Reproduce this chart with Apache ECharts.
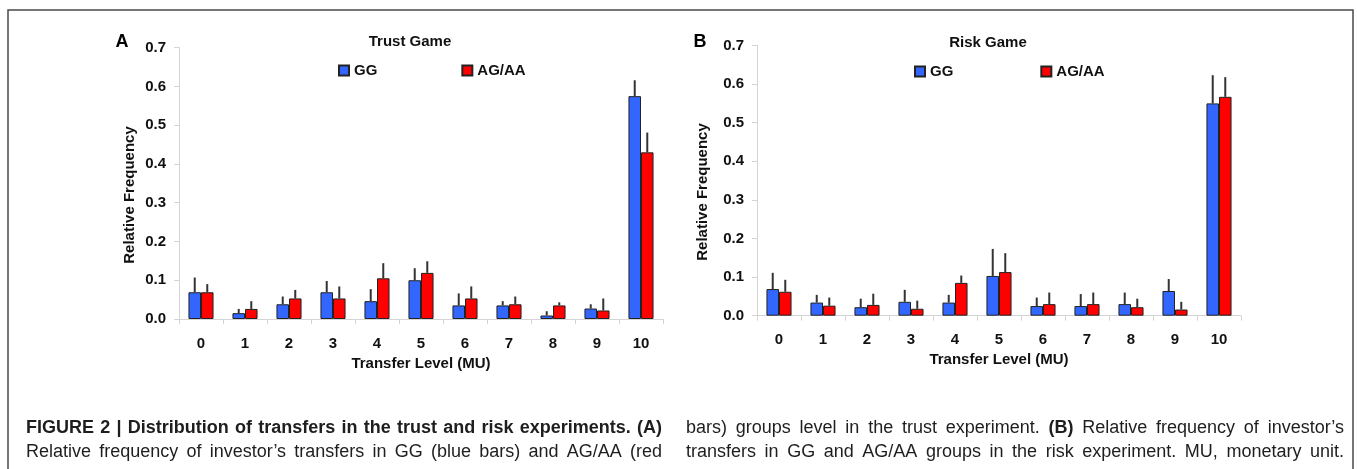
<!DOCTYPE html>
<html>
<head>
<meta charset="utf-8">
<script src="https://cdn.jsdelivr.net/npm/echarts@6/dist/echarts.min.js"></script>
<style>
html,body{margin:0;padding:0;background:#fff;}
#chart{width:1357px;height:469px;}
</style>
</head>
<body>
<div id="chart"></div>
<script>
// ---------- data ----------
const categories = ['0','1','2','3','4','5','6','7','8','9','10'];
const yTicks = [0, 0.1, 0.2, 0.3, 0.4, 0.5, 0.6, 0.7];

const trustGG     = [0.069, 0.015, 0.038, 0.069, 0.046, 0.100, 0.035, 0.035, 0.009, 0.027, 0.575];
const trustGGErr  = [0.038, 0.011, 0.020, 0.029, 0.031, 0.031, 0.031, 0.011, 0.011, 0.011, 0.041];
const trustAG     = [0.069, 0.026, 0.053, 0.053, 0.105, 0.119, 0.053, 0.038, 0.035, 0.022, 0.430];
const trustAGErr  = [0.021, 0.020, 0.022, 0.031, 0.039, 0.030, 0.031, 0.020, 0.008, 0.031, 0.051];

const riskGG      = [0.069, 0.034, 0.022, 0.036, 0.034, 0.103, 0.025, 0.025, 0.030, 0.064, 0.550];
const riskGGErr   = [0.042, 0.020, 0.022, 0.031, 0.020, 0.070, 0.022, 0.031, 0.030, 0.031, 0.073];
const riskAG      = [0.062, 0.026, 0.028, 0.018, 0.085, 0.113, 0.030, 0.030, 0.022, 0.016, 0.567];
const riskAGErr   = [0.031, 0.021, 0.029, 0.021, 0.019, 0.049, 0.030, 0.030, 0.022, 0.020, 0.051];

const seriesNames = ['GG', 'AG/AA'];
const panelTitles = ['Trust Game', 'Risk Game'];
const panelLetters = ['A', 'B'];
const xAxisName = 'Transfer Level (MU)';
const yAxisName = 'Relative Frequency';

const captionLeft = [
  [{t:'FIGURE 2 | Distribution of transfers in the trust and risk experiments. (A)', b:true}],
  [{t:'Relative frequency of investor\u2019s transfers in GG (blue bars) and AG/AA (red', b:false}]
];
const captionRight = [
  [{t:'bars) groups level in the trust experiment.', b:false}, {t:'(B)', b:true}, {t:'Relative frequency of investor\u2019s', b:false}],
  [{t:'transfers in GG and AG/AA groups in the risk experiment. MU, monetary unit.', b:false}]
];

// ---------- styling ----------
const FONT = '"Liberation Sans", Arial, Helvetica, sans-serif';
const BLUE = '#3366ff';
const RED = '#ff0000';
const EDGE = '#222222';
const AXIS = '#d4d4d4';
const BAR_FRAC = 0.285;

const chart = echarts.init(document.getElementById('chart'), null, {renderer: 'canvas'});

const grids = [
  {left: 179, top: 47.7, width: 484, height: 271.3},
  {left: 757, top: 45.5, width: 484, height: 270.2}
];

function xAxisFor(i) {
  return {
    gridIndex: i, type: 'category', data: categories,
    name: xAxisName, nameLocation: 'middle', nameGap: 36,
    nameTextStyle: {fontFamily: FONT, fontWeight: 'bold', fontSize: 15, color: '#111'},
    axisLine: {lineStyle: {color: AXIS, width: 1}},
    axisTick: {show: true, length: 5, lineStyle: {color: AXIS}},
    axisLabel: {interval: 0, margin: 17, fontFamily: FONT, fontWeight: 'bold', fontSize: 15, color: '#111'},
    splitLine: {show: false}
  };
}
function yAxisFor(i) {
  return {
    gridIndex: i, type: 'value', min: 0, max: 0.7, interval: 0.1,
    axisLine: {show: true, lineStyle: {color: AXIS, width: 1}},
    axisTick: {show: true, length: 5, lineStyle: {color: AXIS}},
    axisLabel: {margin: 13, fontFamily: FONT, fontWeight: 'bold', fontSize: 15, color: '#111',
      formatter: v => v.toFixed(1)},
    splitLine: {show: false}
  };
}

function barSeries(name, data, color, idx) {
  return {
    name: name, type: 'bar', xAxisIndex: idx, yAxisIndex: idx,
    data: data, barWidth: (BAR_FRAC * 100) + '%', barGap: '0%',
    itemStyle: {color: color, borderColor: EDGE, borderWidth: 1},
    z: 2
  };
}
function errSeries(vals, errs, side, idx) {
  return {
    type: 'custom', xAxisIndex: idx, yAxisIndex: idx, z: 3, silent: true,
    data: vals.map((v, k) => [k, v, errs[k]]),
    renderItem: function (params, api) {
      const i = api.value(0), v = api.value(1), e = api.value(2);
      const base = api.coord([i, v]);
      const top = api.coord([i, v + e]);
      const bw = api.size([1, 0])[0];
      const x = base[0] + side * bw * BAR_FRAC / 2;
      return {type: 'line', shape: {x1: x, y1: base[1], x2: x, y2: top[1]},
        style: {stroke: '#333333', lineWidth: 2}};
    }
  };
}

// caption layout: justified two-column text, words placed individually
const mctx = document.createElement('canvas').getContext('2d');
const CAP_SIZE = 18;
function capFont(b) { return (b ? 'bold ' : '') + CAP_SIZE + 'px ' + FONT; }
function lineElements(segs, x0, x1, y) {
  const words = [];
  segs.forEach(s => s.t.split(' ').forEach(w => { if (w) words.push({w: w, b: s.b}); }));
  const widths = words.map(o => { mctx.font = capFont(o.b); return mctx.measureText(o.w).width; });
  const total = widths.reduce((a, c) => a + c, 0);
  const gap = (x1 - x0 - total) / Math.max(1, words.length - 1);
  const els = [];
  let x = x0;
  words.forEach((o, k) => {
    els.push({type: 'text', x: x, y: y, silent: true,
      style: {text: o.w, font: capFont(o.b), fill: '#1e1e1e', align: 'left', verticalAlign: 'middle'}});
    x += widths[k] + gap;
  });
  return els;
}

const graphics = [
  {type: 'rect', shape: {x: 8, y: 10, width: 1345, height: 480}, silent: true,
    style: {fill: 'none', stroke: '#4a4a4a', lineWidth: 1.5}},
  {type: 'text', x: 122, y: 42, silent: true, style: {text: panelLetters[0], font: 'bold 18px ' + FONT, fill: '#000', align: 'center', verticalAlign: 'middle'}},
  {type: 'text', x: 700, y: 42, silent: true, style: {text: panelLetters[1], font: 'bold 18px ' + FONT, fill: '#000', align: 'center', verticalAlign: 'middle'}},
  {type: 'text', x: 410, y: 42, silent: true, style: {text: panelTitles[0], font: 'bold 15px ' + FONT, fill: '#111', align: 'center', verticalAlign: 'middle'}},
  {type: 'text', x: 988, y: 42.5, silent: true, style: {text: panelTitles[1], font: 'bold 15px ' + FONT, fill: '#111', align: 'center', verticalAlign: 'middle'}},
  {type: 'text', x: 130, y: 195, rotation: Math.PI / 2, silent: true, style: {text: yAxisName, font: 'bold 15px ' + FONT, fill: '#111', align: 'center', verticalAlign: 'middle'}},
  {type: 'text', x: 703, y: 192, rotation: Math.PI / 2, silent: true, style: {text: yAxisName, font: 'bold 15px ' + FONT, fill: '#111', align: 'center', verticalAlign: 'middle'}}
].concat(
  lineElements(captionLeft[0], 26, 662, 428),
  lineElements(captionLeft[1], 26, 662, 452),
  lineElements(captionRight[0], 686, 1344, 428),
  lineElements(captionRight[1], 686, 1344, 452)
);

const legendCommon = {
  data: seriesNames, orient: 'horizontal', icon: 'rect', itemWidth: 10, itemHeight: 10,
  textStyle: {fontFamily: FONT, fontWeight: 'bold', fontSize: 15, color: '#111'},
  selectedMode: false
};

const option = {
  animation: false,
  backgroundColor: '#ffffff',
  grid: grids,
  xAxis: [xAxisFor(0), xAxisFor(1)],
  yAxis: [yAxisFor(0), yAxisFor(1)],
  legend: [
    Object.assign({left: 333, top: 58, itemGap: 84}, legendCommon),
    Object.assign({left: 909, top: 59, itemGap: 87}, legendCommon)
  ],
  graphic: graphics,
  series: [
    barSeries(seriesNames[0], trustGG, BLUE, 0),
    barSeries(seriesNames[1], trustAG, RED, 0),
    barSeries(seriesNames[0], riskGG, BLUE, 1),
    barSeries(seriesNames[1], riskAG, RED, 1),
    errSeries(trustGG, trustGGErr, -1, 0),
    errSeries(trustAG, trustAGErr, 1, 0),
    errSeries(riskGG, riskGGErr, -1, 1),
    errSeries(riskAG, riskAGErr, 1, 1)
  ]
};
chart.setOption(option);
</script>
</body>
</html>
